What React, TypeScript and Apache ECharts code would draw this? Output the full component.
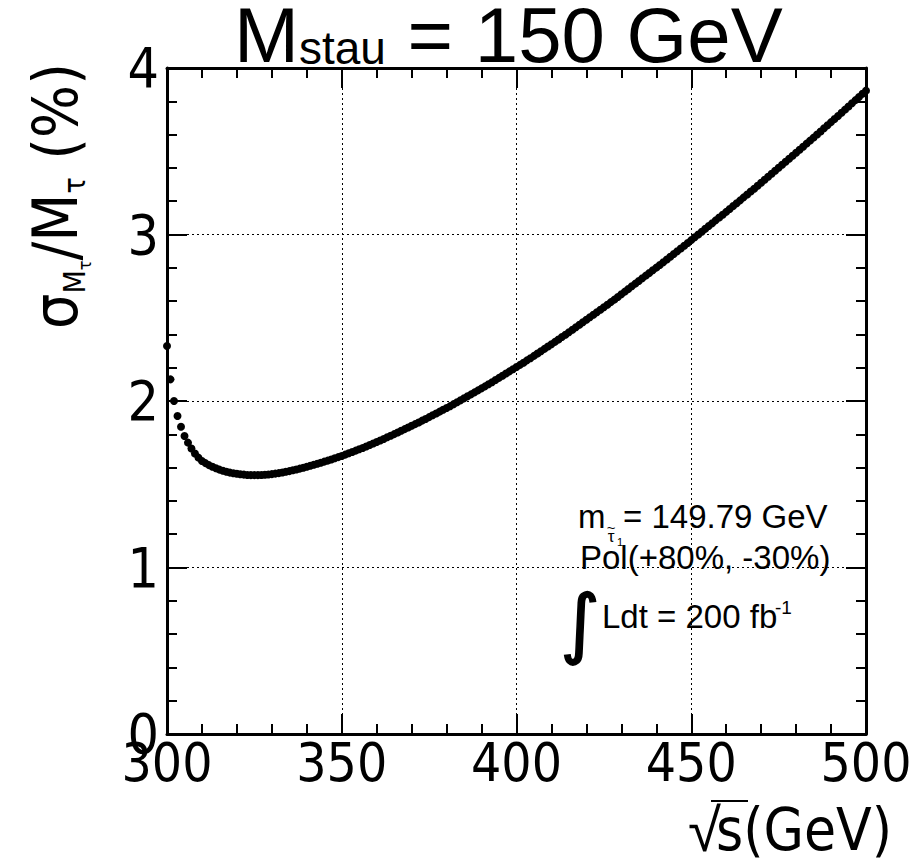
import React, { useEffect, useRef } from "react";
import * as echarts from "echarts";

// sqrt(s) scan points (GeV)
const sqrtS: number[] = [
  300, 301, 302, 303, 304, 305, 306, 307, 308, 309,
  310, 311, 312, 313, 314, 315, 316, 317, 318, 319,
  320, 321, 322, 323, 324, 325, 326, 327, 328, 329,
  330, 331, 332, 333, 334, 335, 336, 337, 338, 339,
  340, 341, 342, 343, 344, 345, 346, 347, 348, 349,
  350, 351, 352, 353, 354, 355, 356, 357, 358, 359,
  360, 361, 362, 363, 364, 365, 366, 367, 368, 369,
  370, 371, 372, 373, 374, 375, 376, 377, 378, 379,
  380, 381, 382, 383, 384, 385, 386, 387, 388, 389,
  390, 391, 392, 393, 394, 395, 396, 397, 398, 399,
  400, 401, 402, 403, 404, 405, 406, 407, 408, 409,
  410, 411, 412, 413, 414, 415, 416, 417, 418, 419,
  420, 421, 422, 423, 424, 425, 426, 427, 428, 429,
  430, 431, 432, 433, 434, 435, 436, 437, 438, 439,
  440, 441, 442, 443, 444, 445, 446, 447, 448, 449,
  450, 451, 452, 453, 454, 455, 456, 457, 458, 459,
  460, 461, 462, 463, 464, 465, 466, 467, 468, 469,
  470, 471, 472, 473, 474, 475, 476, 477, 478, 479,
  480, 481, 482, 483, 484, 485, 486, 487, 488, 489,
  490, 491, 492, 493, 494, 495, 496, 497, 498, 499,
  500,
];

// sigma_M / M (%)
const sigmaRel: number[] = [
  2.33, 2.13, 2.0, 1.91, 1.845, 1.79, 1.75, 1.715, 1.685, 1.66,
  1.64, 1.627, 1.615, 1.605, 1.596, 1.588, 1.581, 1.575, 1.57, 1.566,
  1.563, 1.56, 1.558, 1.556, 1.555, 1.555, 1.555, 1.556, 1.557, 1.559,
  1.561, 1.564, 1.567, 1.571, 1.575, 1.579, 1.584, 1.589, 1.594, 1.599,
  1.605, 1.611, 1.617, 1.623, 1.629, 1.636, 1.642, 1.649, 1.656, 1.663,
  1.67, 1.678, 1.686, 1.694, 1.702, 1.71, 1.718, 1.727, 1.736, 1.745,
  1.754, 1.763, 1.772, 1.782, 1.791, 1.801, 1.811, 1.821, 1.831, 1.841,
  1.851, 1.861, 1.871, 1.882, 1.892, 1.903, 1.914, 1.925, 1.936, 1.947,
  1.958, 1.969, 1.981, 1.992, 2.004, 2.016, 2.028, 2.04, 2.052, 2.064,
  2.076, 2.088, 2.101, 2.113, 2.126, 2.139, 2.152, 2.165, 2.178, 2.191,
  2.204, 2.217, 2.23, 2.244, 2.257, 2.271, 2.285, 2.299, 2.313, 2.327,
  2.341, 2.355, 2.369, 2.384, 2.398, 2.413, 2.428, 2.443, 2.458, 2.473,
  2.488, 2.503, 2.518, 2.533, 2.548, 2.563, 2.578, 2.594, 2.609, 2.625,
  2.641, 2.657, 2.673, 2.689, 2.705, 2.721, 2.737, 2.753, 2.769, 2.785,
  2.801, 2.817, 2.833, 2.85, 2.866, 2.883, 2.899, 2.916, 2.932, 2.949,
  2.966, 2.983, 3.0, 3.017, 3.034, 3.051, 3.068, 3.085, 3.102, 3.119,
  3.136, 3.153, 3.171, 3.188, 3.205, 3.223, 3.24, 3.258, 3.275, 3.293,
  3.311, 3.329, 3.347, 3.365, 3.383, 3.401, 3.419, 3.437, 3.455, 3.473,
  3.491, 3.509, 3.527, 3.546, 3.564, 3.582, 3.601, 3.619, 3.638, 3.656,
  3.675, 3.694, 3.712, 3.731, 3.75, 3.769, 3.788, 3.807, 3.826, 3.845,
  3.864,
];

const xTickValues: number[] = [300, 350, 400, 450, 500];
const yTickValues: number[] = [0, 1, 2, 3, 4];

const TITLE_MAIN = "M";
const TITLE_SUB = "stau";
const TITLE_REST = " = 150 GeV";
const ANNOT_MASS = "= 149.79 GeV";
const ANNOT_POL = "Pol(+80%, -30%)";
const ANNOT_LUMI = "Ldt = 200 fb";

const NARROW =
  '"Liberation Sans Narrow", "Arial Narrow", "DejaVu Sans Condensed", "Liberation Sans", sans-serif';
const SANS = '"Liberation Sans", Arial, Helvetica, sans-serif';

export default function App() {
  const ref = useRef<HTMLDivElement>(null);

  useEffect(() => {
    if (!ref.current) return;
    const chart = echarts.init(ref.current, undefined, { renderer: "svg" });

    const xMin = xTickValues[0];
    const xMax = xTickValues[xTickValues.length - 1];
    const xInt = xTickValues[1] - xTickValues[0];
    const yMin = yTickValues[0];
    const yMax = yTickValues[yTickValues.length - 1];
    const yInt = yTickValues[1] - yTickValues[0];

    const black = "#000";
    const tickCommon = {
      show: true,
      inside: true,
      length: 20,
      lineStyle: { color: black, width: 2 },
    };
    const minorCommon = {
      show: true,
      splitNumber: 5,
      length: 10,
      lineStyle: { color: black, width: 2 },
    };
    const lineCommon = { show: true, onZero: false, lineStyle: { color: black, width: 3 } };

    const option: any = {
      animation: false,
      backgroundColor: "#fff",
      title: {
        text: `{a|${TITLE_MAIN}}{b|${TITLE_SUB}}{a|${TITLE_REST}}`,
        left: 234,
        top: 0,
        padding: 0,
        textStyle: {
          fontWeight: "normal",
          rich: {
            a: {
              fontSize: 78,
              lineHeight: 74,
              fontFamily: SANS,
              fontWeight: "normal",
              color: black,
              verticalAlign: "bottom",
            },
            b: {
              fontSize: 46,
              fontFamily: SANS,
              fontWeight: "normal",
              color: black,
              verticalAlign: "bottom",
              padding: [0, 0, 3, 0],
            },
          },
        },
      },
      grid: {
        left: 167,
        right: 45,
        top: 68,
        bottom: 130,
        containLabel: false,
        outerBoundsMode: "none",
      },
      xAxis: [
        {
          type: "value",
          position: "bottom",
          min: xMin,
          max: xMax,
          interval: xInt,
          axisLine: lineCommon,
          axisTick: tickCommon,
          minorTick: minorCommon,
          splitLine: { show: true, lineStyle: { color: black, width: 1, type: [2, 3] } },
          axisLabel: {
            show: true,
            margin: 2,
            color: black,
            fontSize: 53,
            fontFamily: NARROW,
          },
        },
        {
          type: "value",
          position: "top",
          min: xMin,
          max: xMax,
          interval: xInt,
          axisLine: lineCommon,
          axisTick: tickCommon,
          minorTick: minorCommon,
          splitLine: { show: false },
          axisLabel: { show: false },
        },
      ],
      yAxis: [
        {
          type: "value",
          position: "left",
          min: yMin,
          max: yMax,
          interval: yInt,
          axisLine: lineCommon,
          axisTick: tickCommon,
          minorTick: minorCommon,
          splitLine: { show: true, lineStyle: { color: black, width: 1, type: [2, 3] } },
          axisLabel: {
            show: true,
            margin: 8,
            color: black,
            fontSize: 55,
            fontFamily: NARROW,
          },
        },
        {
          type: "value",
          position: "right",
          min: yMin,
          max: yMax,
          interval: yInt,
          axisLine: lineCommon,
          axisTick: tickCommon,
          minorTick: minorCommon,
          splitLine: { show: false },
          axisLabel: { show: false },
        },
      ],
      series: [
        {
          type: "scatter",
          xAxisIndex: 0,
          yAxisIndex: 0,
          symbol: "circle",
          symbolSize: 8,
          itemStyle: { color: black, opacity: 1 },
          clip: false,
          silent: true,
          data: sqrtS.map((x, i) => [x, sigmaRel[i]]),
        },
      ],
      graphic: [
        // y-axis title
        {
          type: "text",
          x: 59,
          y: 196,
          rotation: Math.PI / 2,
          silent: true,
          style: {
            text: "{s|σ}{m|M}{t|τ}{n|/M}{u|τ}{n| (%)}",
            align: "center",
            verticalAlign: "middle",
            rich: {
              s: { fontSize: 62, fontFamily: NARROW, fill: black, verticalAlign: "top" },
              n: { fontSize: 62, fontFamily: NARROW, fill: black, verticalAlign: "top" },
              m: {
                fontSize: 30,
                fontFamily: NARROW,
                fill: black,
                verticalAlign: "top",
                padding: [35, 0, 0, 0],
              },
              u: {
                fontSize: 30,
                fontFamily: NARROW,
                fill: black,
                verticalAlign: "top",
                padding: [35, 0, 0, 0],
              },
              t: {
                fontSize: 18,
                fontFamily: NARROW,
                fill: black,
                verticalAlign: "top",
                padding: [51, 0, 0, 0],
              },
            },
          },
        },
        // x-axis title
        {
          type: "text",
          x: 688,
          y: 830,
          silent: true,
          style: {
            text: "√",
            font: `60px ${SANS}`,
            fill: black,
            align: "left",
            verticalAlign: "middle",
          },
        },
        {
          type: "text",
          x: 716,
          y: 830,
          silent: true,
          style: {
            text: "s(GeV)",
            font: `58px ${NARROW}`,
            fill: black,
            align: "left",
            verticalAlign: "middle",
          },
        },
        {
          type: "line",
          silent: true,
          shape: { x1: 711, y1: 801, x2: 748, y2: 801 },
          style: { stroke: black, lineWidth: 2 },
        },
        // annotation
        {
          type: "text",
          x: 578,
          y: 516,
          silent: true,
          style: { text: "m", font: `33px ${SANS}`, fill: black, align: "left", verticalAlign: "middle" },
        },
        {
          type: "text",
          x: 611,
          y: 527,
          silent: true,
          style: { text: "~", font: `15px ${SANS}`, fill: black, align: "center", verticalAlign: "middle" },
        },
        {
          type: "text",
          x: 611,
          y: 536,
          silent: true,
          style: { text: "τ", font: `17px ${SANS}`, fill: black, align: "center", verticalAlign: "middle" },
        },
        {
          type: "text",
          x: 617,
          y: 542,
          silent: true,
          style: { text: "1", font: `11px ${SANS}`, fill: black, align: "left", verticalAlign: "middle" },
        },
        {
          type: "text",
          x: 623,
          y: 516,
          silent: true,
          style: { text: ANNOT_MASS, font: `33px ${SANS}`, fill: black, align: "left", verticalAlign: "middle" },
        },
        {
          type: "text",
          x: 580,
          y: 557,
          silent: true,
          style: { text: ANNOT_POL, font: `33px ${SANS}`, fill: black, align: "left", verticalAlign: "middle" },
        },
        {
          type: "text",
          x: 580,
          y: 622,
          silent: true,
          style: {
            text: "∫",
            font: `76px "DejaVu Sans", sans-serif`,
            fill: black,
            stroke: black,
            lineWidth: 1.5,
            align: "center",
            verticalAlign: "middle",
          },
        },
        {
          type: "text",
          x: 602,
          y: 616,
          silent: true,
          style: { text: ANNOT_LUMI, font: `33px ${SANS}`, fill: black, align: "left", verticalAlign: "middle" },
        },
        {
          type: "text",
          x: 775,
          y: 607,
          silent: true,
          style: { text: "-1", font: `19px ${SANS}`, fill: black, align: "left", verticalAlign: "middle" },
        },
      ],
    };

    chart.setOption(option);
    return () => {
      chart.dispose();
    };
  }, []);

  return (
    <div
      ref={ref}
      style={{ position: "absolute", left: 0, top: 0, width: 911, height: 864 }}
    />
  );
}
